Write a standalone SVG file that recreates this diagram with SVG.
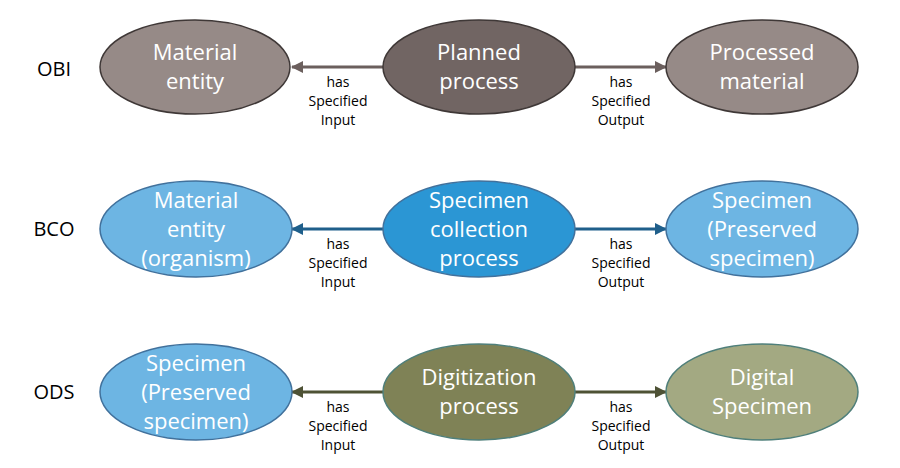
<svg xmlns="http://www.w3.org/2000/svg" width="900" height="468" viewBox="0 0 900 468">
<style>
.node text{font-family:"Open Sans","Liberation Sans",sans-serif;font-size:22px;fill:#ffffff;text-anchor:middle}
.lbl{font-family:"Open Sans","Liberation Sans",sans-serif;font-size:14px;fill:#000;text-anchor:middle}
.row{font-family:"Open Sans","Liberation Sans",sans-serif;font-size:20px;fill:#000;text-anchor:middle}
.e1{stroke:#3f3837;stroke-width:1.5}
.e2{stroke:#41719c;stroke-width:1.5}
.e3{stroke:#4f7f7a;stroke-width:1.5}
</style>
<defs>
<marker id="a1" markerWidth="12" markerHeight="12" refX="11" refY="6" orient="auto" markerUnits="userSpaceOnUse"><path d="M0,0 L12,6 L0,12 Z" fill="#6b5f5d"/></marker>
<marker id="a2" markerWidth="12" markerHeight="12" refX="11" refY="6" orient="auto" markerUnits="userSpaceOnUse"><path d="M0,0 L12,6 L0,12 Z" fill="#1f5f8b"/></marker>
<marker id="a3" markerWidth="12" markerHeight="12" refX="11" refY="6" orient="auto" markerUnits="userSpaceOnUse"><path d="M0,0 L12,6 L0,12 Z" fill="#4e5235"/></marker>
</defs>
<rect width="900" height="468" fill="#ffffff"/>
<g id="rowlabels">
<text class="row" x="54" y="76">OBI</text>
<text class="row" x="54" y="236">BCO</text>
<text class="row" x="54" y="399">ODS</text>
</g>
<g id="connectors">
<line x1="383" y1="67" x2="292" y2="67" stroke="#6b5f5d" stroke-width="3" marker-end="url(#a1)"/>
<line x1="575" y1="67" x2="666" y2="67" stroke="#6b5f5d" stroke-width="3" marker-end="url(#a1)"/>
<line x1="383" y1="229" x2="292" y2="229" stroke="#1f5f8b" stroke-width="3" marker-end="url(#a2)"/>
<line x1="575" y1="229" x2="666" y2="229" stroke="#1f5f8b" stroke-width="3" marker-end="url(#a2)"/>
<line x1="383" y1="392" x2="292" y2="392" stroke="#4e5235" stroke-width="3" marker-end="url(#a3)"/>
<line x1="575" y1="392" x2="666" y2="392" stroke="#4e5235" stroke-width="3" marker-end="url(#a3)"/>
<text class="lbl" x="338" y="87">has</text><text class="lbl" x="338" y="106">Specified</text><text class="lbl" x="338" y="125">Input</text>
<text class="lbl" x="621" y="87">has</text><text class="lbl" x="621" y="106">Specified</text><text class="lbl" x="621" y="125">Output</text>
<text class="lbl" x="338" y="249">has</text><text class="lbl" x="338" y="268">Specified</text><text class="lbl" x="338" y="287">Input</text>
<text class="lbl" x="621" y="249">has</text><text class="lbl" x="621" y="268">Specified</text><text class="lbl" x="621" y="287">Output</text>
<text class="lbl" x="338" y="412">has</text><text class="lbl" x="338" y="431">Specified</text><text class="lbl" x="338" y="450">Input</text>
<text class="lbl" x="621" y="412">has</text><text class="lbl" x="621" y="431">Specified</text><text class="lbl" x="621" y="450">Output</text>
</g>
<g id="obi-material" class="node"><ellipse class="e1" cx="195" cy="67" rx="95" ry="47" fill="#968a87"/><text x="195" y="60">Material</text><text x="195" y="89">entity</text></g>
<g id="obi-planned" class="node"><ellipse class="e1" cx="479" cy="67" rx="96" ry="47" fill="#716563"/><text x="479" y="60">Planned</text><text x="479" y="89">process</text></g>
<g id="obi-processed" class="node"><ellipse class="e1" cx="762" cy="67" rx="96" ry="47" fill="#968a87"/><text x="762" y="60">Processed</text><text x="762" y="89">material</text></g>
<g id="bco-material" class="node"><ellipse class="e2" cx="196" cy="229" rx="96" ry="48" fill="#6db5e3"/><text x="196" y="208">Material</text><text x="196" y="237">entity</text><text x="196" y="266">(organism)</text></g>
<g id="bco-collection" class="node"><ellipse class="e2" cx="479" cy="229" rx="96" ry="48" fill="#2b96d4"/><text x="479" y="208">Specimen</text><text x="479" y="237">collection</text><text x="479" y="266">process</text></g>
<g id="bco-specimen" class="node"><ellipse class="e2" cx="762" cy="229" rx="96" ry="48" fill="#6db5e3"/><text x="762" y="208">Specimen</text><text x="762" y="237">(Preserved</text><text x="762" y="266">specimen)</text></g>
<g id="ods-specimen" class="node"><ellipse class="e2" cx="196" cy="392" rx="96" ry="48" fill="#6db5e3"/><text x="196" y="371">Specimen</text><text x="196" y="400">(Preserved</text><text x="196" y="429">specimen)</text></g>
<g id="ods-digitization" class="node"><ellipse class="e3" cx="479" cy="392" rx="96" ry="48" fill="#7f8256"/><text x="479" y="385">Digitization</text><text x="479" y="414">process</text></g>
<g id="ods-digital" class="node"><ellipse class="e3" cx="762" cy="392" rx="96" ry="48" fill="#a3a982"/><text x="762" y="385">Digital</text><text x="762" y="414">Specimen</text></g>
</svg>
